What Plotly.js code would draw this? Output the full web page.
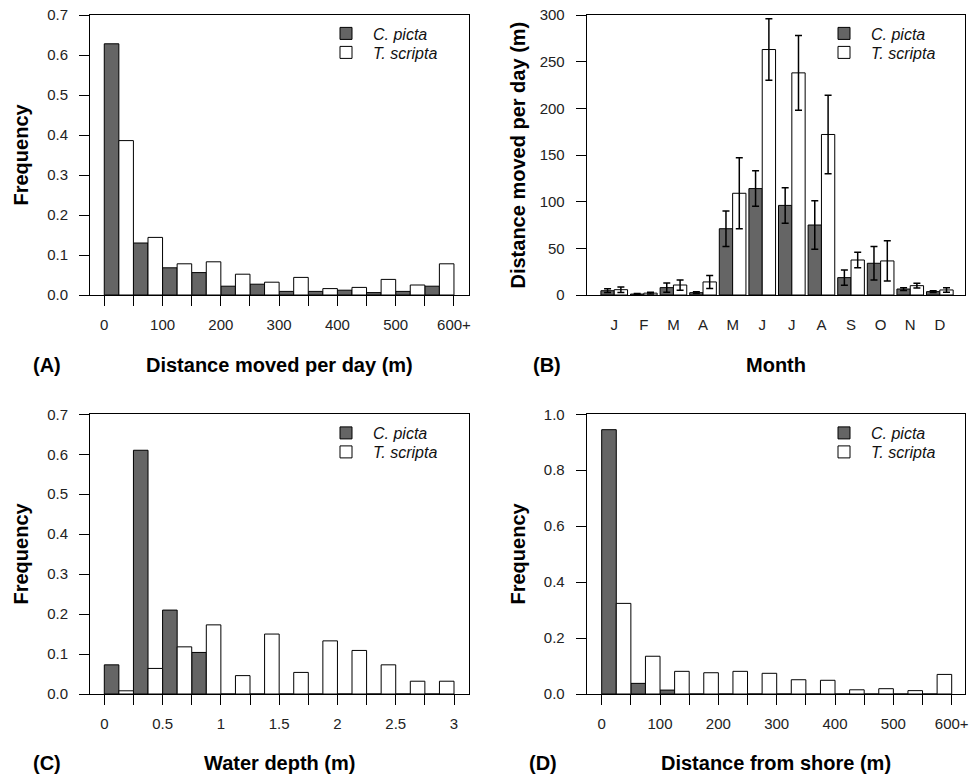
<!DOCTYPE html>
<html>
<head>
<meta charset="utf-8">
<script src="https://cdn.plot.ly/plotly-3.0.1.min.js"></script>
<style>
html,body{margin:0;padding:0;background:#fff;}
#chart{width:969px;height:777px;}
</style>
</head>
<body>
<div id="chart"></div>
<script>
// ---------- DATA ----------
// (A) Distance moved per day (m): 50 m bins
const distBins = [0, 50, 100, 150, 200, 250, 300, 350, 400, 450, 500, 550];
const distPicta   = [0.628, 0.130, 0.068, 0.056, 0.022, 0.027, 0.009, 0.009, 0.012, 0.006, 0.009, 0.022];
const distScripta = [0.386, 0.144, 0.078, 0.083, 0.052, 0.032, 0.044, 0.016, 0.019, 0.039, 0.025, 0.078];
const distTickVals = [0, 50, 100, 150, 200, 250, 300, 350, 400, 450, 500, 550, 600];
const distTickText = ['0', '', '100', '', '200', '', '300', '', '400', '', '500', '', '600+'];

// (B) Distance moved per day by month (mean ± SE)
const monthIdx    = [1, 2, 3, 4, 5, 6, 7, 8, 9, 10, 11, 12];
const monthLabels = ['J', 'F', 'M', 'A', 'M', 'J', 'J', 'A', 'S', 'O', 'N', 'D'];
const monthPicta      = [4.6, 1.0, 7.9, 2.5, 71, 114, 96, 75, 18.6, 34, 6.4, 3.6];
const monthPictaErr   = [2.0, 0.5, 5.0, 1.0, 19, 19, 19, 26, 8.2, 18, 1.5, 1.0];
const monthScripta    = [5.7, 2.0, 10.7, 14, 109, 263, 238, 172, 37.5, 36.5, 10, 5.4];
const monthScriptaErr = [3.0, 1.0, 5.5, 7.0, 38, 33, 40, 42, 8.4, 21.6, 2.5, 2.5];

// (C) Water depth (m): 0.25 m bins
const depthBins = [0, 0.25, 0.5, 0.75, 1, 1.25, 1.5, 1.75, 2, 2.25, 2.5, 2.75];
const depthPicta   = [0.073, 0.610, 0.210, 0.104, 0, 0, 0, 0, 0, 0, 0, 0];
const depthScripta = [0.008, 0.064, 0.118, 0.173, 0.046, 0.150, 0.054, 0.133, 0.109, 0.073, 0.032, 0.032];
const depthTickVals = [0, 0.25, 0.5, 0.75, 1, 1.25, 1.5, 1.75, 2, 2.25, 2.5, 2.75, 3];
const depthTickText = ['0', '', '0.5', '', '1', '', '1.5', '', '2', '', '2.5', '', '3'];

// (D) Distance from shore (m): 50 m bins
const shoreBins = [0, 50, 100, 150, 200, 250, 300, 350, 400, 450, 500, 550];
const shorePicta   = [0.945, 0.038, 0.014, 0, 0, 0, 0, 0, 0, 0, 0, 0];
const shoreScripta = [0.324, 0.135, 0.081, 0.076, 0.081, 0.074, 0.051, 0.049, 0.015, 0.019, 0.012, 0.070];

const seriesNames = ['<i>C. picta</i>', '<i>T. scripta</i>'];

// ---------- STYLE ----------
const W = 969, H = 777;
const FONT = 'Liberation Sans, Arial, Helvetica, sans-serif';
const DARK = '#656565';
const dx = (a, b) => [a / W, b / W];
const dy = (top, bottom) => [1 - bottom / H, 1 - top / H];

function pairBars(bins, a, b, binW, xa, ya, legA, legB) {
  const half = binW / 2;
  return [
    {type: 'bar', x: bins, y: a, offset: 0, width: half, name: seriesNames[0],
     marker: {color: DARK, line: {color: '#000', width: 1}},
     xaxis: xa, yaxis: ya, legend: legA, showlegend: true},
    {type: 'bar', x: bins, y: b, offset: half, width: half, name: seriesNames[1],
     marker: {color: '#ffffff', line: {color: '#000', width: 1}},
     xaxis: xa, yaxis: ya, legend: legB, showlegend: true}
  ];
}

const traces = [
  ...pairBars(distBins, distPicta, distScripta, 50, 'x', 'y', 'legend', 'legend2'),
  {type: 'bar', x: monthIdx, y: monthPicta, offset: -0.45, width: 0.45, name: seriesNames[0],
   marker: {color: DARK, line: {color: '#000', width: 1}},
   error_y: {type: 'data', array: monthPictaErr, visible: true, color: '#000', thickness: 1.5, width: 3.5},
   xaxis: 'x2', yaxis: 'y2', legend: 'legend3', showlegend: true},
  {type: 'bar', x: monthIdx, y: monthScripta, offset: 0, width: 0.45, name: seriesNames[1],
   marker: {color: '#ffffff', line: {color: '#000', width: 1}},
   error_y: {type: 'data', array: monthScriptaErr, visible: true, color: '#000', thickness: 1.5, width: 3.5},
   xaxis: 'x2', yaxis: 'y2', legend: 'legend4', showlegend: true},
  ...pairBars(depthBins, depthPicta, depthScripta, 0.25, 'x3', 'y3', 'legend5', 'legend6'),
  ...pairBars(shoreBins, shorePicta, shoreScripta, 50, 'x4', 'y4', 'legend7', 'legend8')
];

const axBase = {
  showline: true, mirror: true, linecolor: '#000', linewidth: 1,
  ticks: 'outside', ticklen: 10, tickwidth: 1, tickcolor: '#000',
  showgrid: false, zeroline: false, fixedrange: true,
  tickfont: {family: FONT, size: 15, color: '#222'}
};
const xAx = (o) => Object.assign({}, axBase, {ticklabelstandoff: 6}, o);
const yAx = (o) => Object.assign({}, axBase, {ticklabelstandoff: 8}, o);

// one legend box per entry, placed by its row centre (px)
const LEG_OFF = 17;
const legAt = (x, rowCentre) => ({
  x: x / W, y: 1 - (rowCentre - LEG_OFF) / H, xanchor: 'left', yanchor: 'top',
  bgcolor: 'rgba(0,0,0,0)', borderwidth: 0, itemwidth: 44, tracegroupgap: 0,
  font: {family: FONT, size: 16, color: '#111'}, itemclick: false, itemdoubleclick: false
});

function ann(text, x, y, opts) {
  return Object.assign({
    text: text, x: x / W, y: 1 - y / H, xref: 'paper', yref: 'paper',
    xanchor: 'center', yanchor: 'middle', showarrow: false,
    font: {family: FONT, size: 20, color: '#000', weight: 'bold'}
  }, opts || {});
}

const layout = {
  width: W, height: H, margin: {l: 0, r: 0, t: 0, b: 0},
  paper_bgcolor: '#fff', plot_bgcolor: '#fff',
  barmode: 'overlay', showlegend: true,
  font: {family: FONT},
  xaxis:  xAx({domain: dx(90, 469), range: [-24.5, 625.8], anchor: 'y',
               tickmode: 'array', tickvals: distTickVals, ticktext: distTickText}),
  yaxis:  yAx({domain: dy(15, 295), range: [0, 0.7], anchor: 'x', dtick: 0.1, tickformat: '.1f'}),
  xaxis2: xAx({domain: dx(586.7, 965), range: [0.07, 12.85], anchor: 'y2',
               tickmode: 'array', tickvals: monthIdx, ticktext: monthLabels,
               ticks: '', ticklen: 0, ticklabelstandoff: 16}),
  yaxis2: yAx({domain: dy(15, 295), range: [0, 300], anchor: 'x2', dtick: 50}),
  xaxis3: xAx({domain: dx(90, 469), range: [-0.1227, 3.1286], anchor: 'y3',
               tickmode: 'array', tickvals: depthTickVals, ticktext: depthTickText}),
  yaxis3: yAx({domain: dy(414.3, 694), range: [0, 0.7], anchor: 'x3', dtick: 0.1, tickformat: '.1f'}),
  xaxis4: xAx({domain: dx(586.7, 965), range: [-25.7, 622.8], anchor: 'y4',
               tickmode: 'array', tickvals: distTickVals, ticktext: distTickText}),
  yaxis4: yAx({domain: dy(414.3, 694), range: [0, 1.0], anchor: 'x4', dtick: 0.2, tickformat: '.1f'}),
  legend:  legAt(319, 33.5),
  legend2: legAt(319, 52.5),
  legend3: legAt(817, 33.5),
  legend4: legAt(817, 52.5),
  legend5: legAt(319, 433),
  legend6: legAt(319, 452),
  legend7: legAt(817, 433),
  legend8: legAt(817, 452),
  annotations: [
    ann('Frequency', 20.5, 155, {textangle: -90}),
    ann('Distance moved per day (m)', 279.5, 365),
    ann('(A)', 47, 365),
    ann('Distance moved per day (m)', 517.5, 155, {textangle: -90}),
    ann('Month', 776, 365),
    ann('(B)', 547, 365),
    ann('Frequency', 20.5, 554, {textangle: -90}),
    ann('Water depth (m)', 279.5, 763),
    ann('(C)', 47, 763),
    ann('Frequency', 517.5, 554, {textangle: -90}),
    ann('Distance from shore (m)', 776, 763),
    ann('(D)', 543, 763)
  ]
};

Plotly.newPlot('chart', traces, layout, {displayModeBar: false, staticPlot: true});
</script>
</body>
</html>
